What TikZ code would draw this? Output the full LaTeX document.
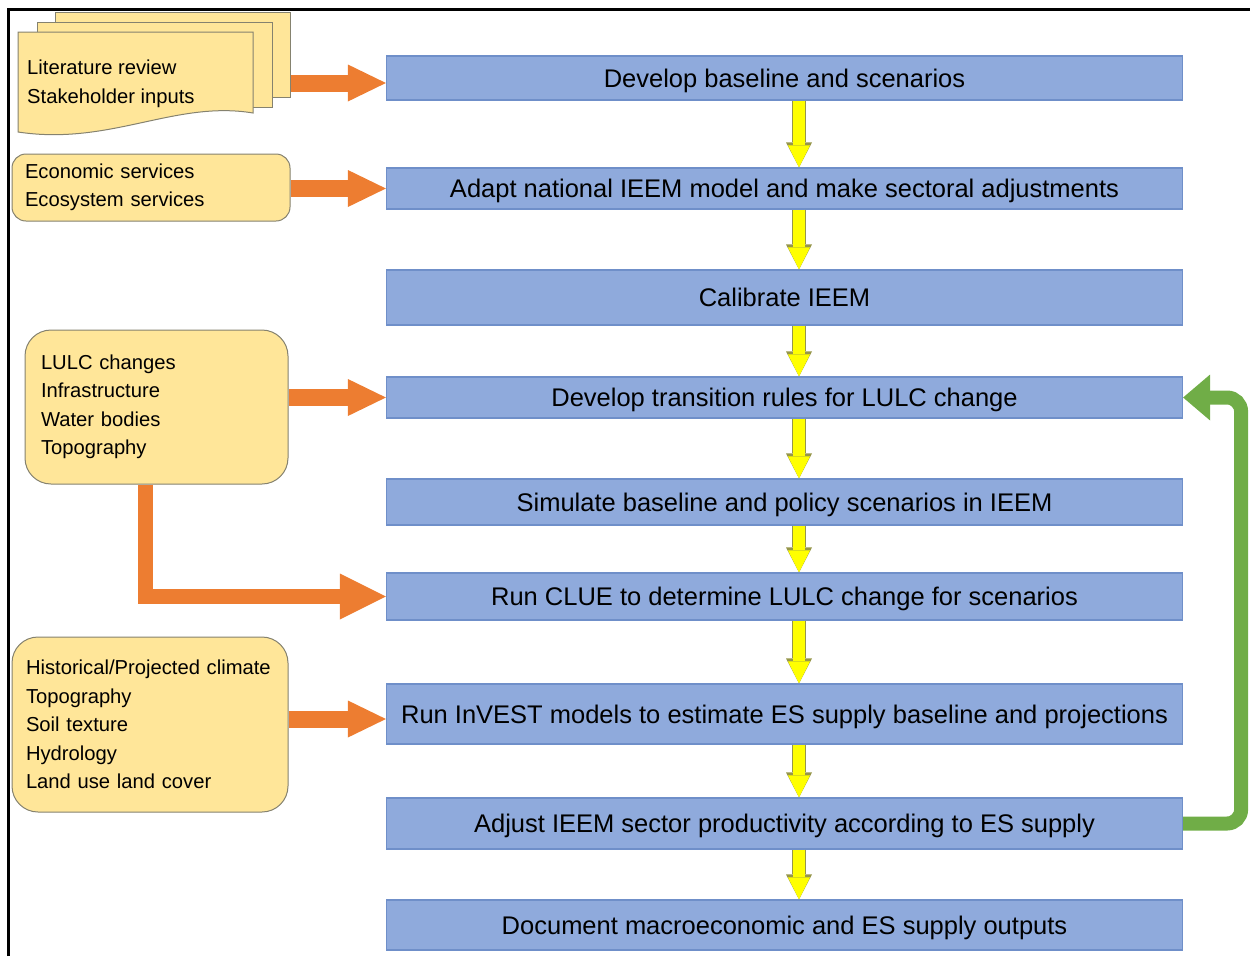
\documentclass[tikz,border=0pt]{standalone}
\usepackage{fontspec}
\setmainfont{Liberation Sans}
\usetikzlibrary{arrows.meta,calc}
\definecolor{boxblue}{HTML}{8FAADC}
\definecolor{boxline}{HTML}{6F8FC9}
\definecolor{notey}{HTML}{FFE699}
\definecolor{noteline}{HTML}{85826F}
\definecolor{orng}{HTML}{ED7D31}
\definecolor{grn}{HTML}{70AD47}
\definecolor{yarr}{HTML}{FFFF00}
\definecolor{yedge}{HTML}{96964A}

\begin{document}
\begin{tikzpicture}[x=1pt,y=-1pt,
    stage/.style={draw=boxline, line width=1.2pt, fill=boxblue, minimum width=796pt, inner sep=0pt, text height=18.3pt, text depth=0pt, font=\fontsize{25.5}{30}\selectfont},
    note/.style={draw=noteline, line width=1pt, fill=notey, align=left, inner ysep=0pt, font=\fontsize{20.2}{28.5}\selectfont},
    page/.style={draw=noteline, line width=1pt, fill=notey, inner sep=0pt, minimum width=235pt, minimum height=85pt},
    inarrow/.style={draw=orng, line width=17pt, -{Triangle[length=38pt,width=37pt,line width=0pt]}},
    downarrow/.style={preaction={draw=yedge, line width=14pt, -{Triangle[length=25pt,width=26pt,line width=0pt]}},
        draw=yarr, line width=12pt, -{Triangle[length=22pt,width=22pt,line width=0pt]}},
    loopback/.style={draw=grn, line width=14pt, rounded corners=14pt, -{Triangle[length=27pt,width=46pt,line width=0pt]}}]

        \useasboundingbox (0,0) rectangle (1250,956);
        \draw[line width=3pt] (8.5,956) -- (8.5,9.5) -- (1250,9.5);

        % steps
        \node[stage, minimum height=44pt] (b1) at (784.5,78) {Develop baseline and scenarios};
        \node[stage, minimum height=41pt] (b2) at (784.5,188.5) {Adapt national IEEM model and make sectoral adjustments};
        \node[stage, minimum height=55pt] (b3) at (784.5,297.5) {Calibrate IEEM};
        \node[stage, minimum height=41pt] (b4) at (784.5,397.5) {Develop transition rules for LULC change};
        \node[stage, minimum height=46pt] (b5) at (784.5,502) {Simulate baseline and policy scenarios in IEEM};
        \node[stage, minimum height=47pt] (b6) at (784.5,596.5) {Run CLUE to determine LULC change for scenarios};
        \node[stage, minimum height=60pt] (b7) at (784.5,714) {Run InVEST models to estimate ES supply baseline and projections};
        \node[stage, minimum height=51pt] (b8) at (784.5,823.5) {Adjust IEEM sector productivity according to ES supply};
        \node[stage, minimum height=50pt] (b9) at (784.5,925) {Document macroeconomic and ES supply outputs};

        % inputs
        \node[page] (pg3) at (172.5,54.5) {};
        \node[page] (pg2) at (154.5,64.5) {};
        \draw[page] (18,32) -- (253,32) -- (253,113) .. controls (175,100) and (110,146) .. (18,132) -- cycle;
        \node[anchor=west, align=left, inner sep=0pt, font=\fontsize{20.2}{28.5}\selectfont] (lit) at (27,84) {Literature review\\Stakeholder inputs};

        \node[note, rounded corners=14pt, text width=252pt, inner xsep=13pt, minimum height=67pt] (econ) at (151,187.5) {Economic services\\Ecosystem services};
        \node[note, rounded corners=26pt, text width=231pt, inner xsep=16pt, minimum height=154pt] (lulc) at (156.5,407) {LULC changes\\Infrastructure\\Water bodies\\Topography};
        \node[note, rounded corners=26pt, text width=248pt, inner xsep=14pt, minimum height=175pt] (clim) at (150,724.5) {Historical/Projected climate\\Topography\\Soil texture\\Hydrology\\Land use land cover};

        \draw[inarrow] ($(pg3.east |- b1.west)+(0,5)$) -- ($(b1.west)+(0,5)$);
        \draw[inarrow] (econ.east |- b2.west) -- (b2.west);
        \draw[inarrow] (lulc.east |- b4.west) -- (b4.west);
        \draw[inarrow] ($(clim.east |- b7.west)+(0,5)$) -- ($(b7.west)+(0,5)$);
        \coordinate (drop) at (145,484);
        \draw[inarrow, line width=15pt, -{Triangle[length=46pt,width=46pt,line width=0pt]}] (lulc.south -| drop) |- (b6.west);

        \coordinate (ax) at (799,0);
        \draw[downarrow] (b1.south -| ax) -- (b2.north -| ax);
        \draw[downarrow] (b2.south -| ax) -- (b3.north -| ax);
        \draw[downarrow] (b3.south -| ax) -- (b4.north -| ax);
        \draw[downarrow] (b4.south -| ax) -- (b5.north -| ax);
        \draw[downarrow] (b5.south -| ax) -- (b6.north -| ax);
        \draw[downarrow] (b6.south -| ax) -- (b7.north -| ax);
        \draw[downarrow] (b7.south -| ax) -- (b8.north -| ax);
        \draw[downarrow] (b8.south -| ax) -- (b9.north -| ax);

        \draw[loopback] (b8.east) -- ++(58,0) |- (b4.east);
    \end{tikzpicture}
\end{document}
